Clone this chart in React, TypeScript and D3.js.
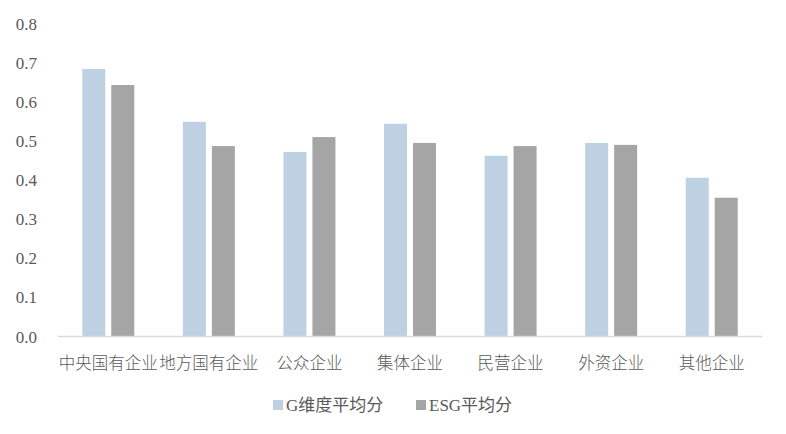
import React from "react";
import * as d3 from "d3";

const categories = ["中央国有企业", "地方国有企业", "公众企业", "集体企业", "民营企业", "外资企业", "其他企业"];
const gScores = [0.685, 0.55, 0.473, 0.545, 0.463, 0.496, 0.407];
const esgScores = [0.644, 0.488, 0.511, 0.496, 0.488, 0.491, 0.356];
const seriesNames = ["G维度平均分", "ESG平均分"];
const seriesColors = ["#bdd1e3", "#a5a5a5"];
const yTicks = [0, 0.1, 0.2, 0.3, 0.4, 0.5, 0.6, 0.7, 0.8];

const W = 786;
const H = 434;
const left = 58;
const right = 762;
const top = 24;
const bottom = 337;

const serif = "'Liberation Serif', 'Times New Roman', serif";
const cjk = "'Noto Sans CJK SC', sans-serif";

export default function App() {
  const x0 = d3.scaleBand<string>().domain(categories).range([left, right]).padding(0);
  const x1 = d3.scaleBand<string>().domain(["G", "ESG"]).range([-26, 26]).paddingInner(6 / 29).paddingOuter(0);
  const y = d3.scaleLinear().domain([0, 0.8]).range([bottom, top]);
  const series = [gScores, esgScores];
  const keys = ["G", "ESG"];
  const fmt = d3.format(".1f");

  return (
    <svg width={W} height={H} style={{ position: "absolute", left: 0, top: 0, background: "#fff" }}>
      <rect x={0} y={0} width={W} height={H} fill="#fff" />
      {yTicks.map((t) => (
        <text
          key={t}
          x={37}
          y={y(t)}
          textAnchor="end"
          dominantBaseline="central"
          style={{ fontFamily: serif, fontSize: "17px" }}
          fill="#595959"
        >
          {fmt(t)}
        </text>
      ))}
      {categories.map((c, i) => {
        const cx = (x0(c) as number) + x0.bandwidth() / 2;
        return (
          <g key={c}>
            {keys.map((k, j) => (
              <rect
                key={k}
                x={cx + (x1(k) as number)}
                y={y(series[j][i])}
                width={x1.bandwidth()}
                height={y(0) - y(series[j][i])}
                fill={seriesColors[j]}
              />
            ))}
            <text
              x={cx}
              y={362}
              textAnchor="middle"
              dominantBaseline="central"
              style={{ fontFamily: cjk, fontSize: "16.5px", fontWeight: 300 }}
              fill="#595959"
            >
              {c}
            </text>
          </g>
        );
      })}
      <line x1={left} x2={right} y1={y(0) - 0.5} y2={y(0) - 0.5} stroke="#d9d9d9" strokeWidth={1.5} />
      {seriesNames.map((n, j) => {
        const lx = j === 0 ? 273 : 416;
        return (
          <g key={n}>
            <rect x={lx} y={400} width={10} height={10} fill={seriesColors[j]} />
            <text
              x={lx + 13}
              y={405}
              dominantBaseline="central"
              style={{ fontFamily: "'Liberation Serif', 'Noto Sans CJK SC', serif", fontSize: "17px" }}
              fill="#595959"
            >
              {n}
            </text>
          </g>
        );
      })}
    </svg>
  );
}
